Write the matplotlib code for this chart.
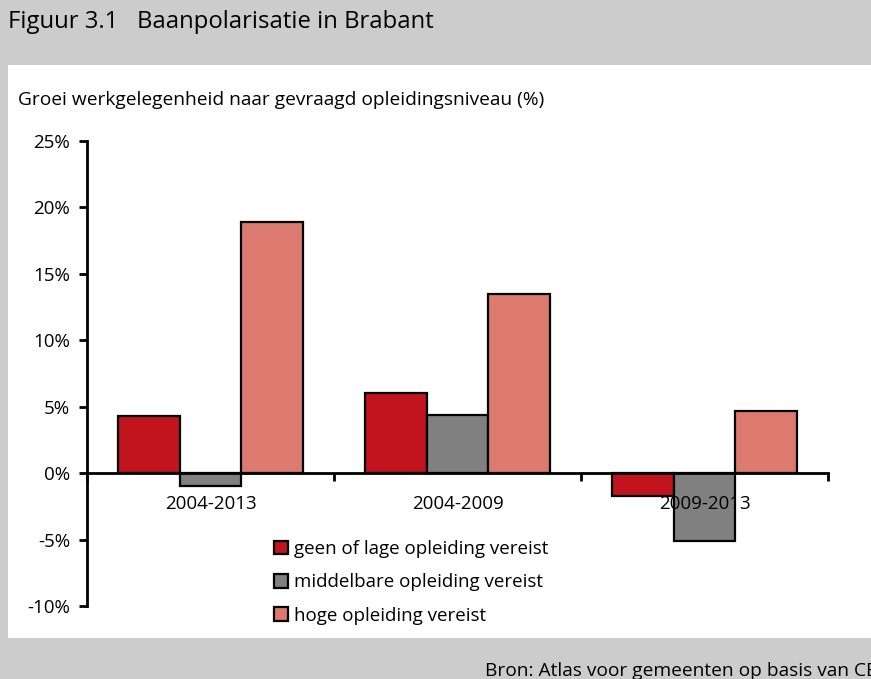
import matplotlib
matplotlib.use("Agg")
import matplotlib.pyplot as plt
import numpy as np
from matplotlib.patches import Rectangle

plt.rcParams['font.family'] = ['Open Sans', 'DejaVu Sans']

categories = ["2004-2013", "2004-2009", "2009-2013"]
series_names = ["geen of lage opleiding vereist",
                "middelbare opleiding vereist",
                "hoge opleiding vereist"]
laag = [4.3, 6.05, -1.75]
middel = [-1.0, 4.4, -5.1]
hoog = [18.9, 13.5, 4.7]
yticks = [-10, -5, 0, 5, 10, 15, 20, 25]
colors = ["#C1141F", "#808080", "#DC7A70"]

W, H = 871, 679
fig = plt.figure(figsize=(W / 100, H / 100), dpi=100)
fig.patch.set_facecolor("#CCCCCC")

# white panel
fig.patches.append(Rectangle((8 / W, 1 - 638 / H), 1, (638 - 65) / H,
                             transform=fig.transFigure, facecolor="white",
                             edgecolor="none", zorder=-5))

fig.text(8 / W, 1 - 22 / H, "Figuur 3.1   Baanpolarisatie in Brabant",
         fontsize=17.2, va="center", ha="left")
fig.text(18 / W, 1 - 100 / H,
         "Groei werkgelegenheid naar gevraagd opleidingsniveau (%)",
         fontsize=13.8, va="center", ha="left")
fig.text(485 / W, 1 - 671 / H, "Bron: Atlas voor gemeenten op basis van CBS",
         fontsize=13.8, va="center", ha="left")

ax = fig.add_axes([87 / W, 1 - 606 / H, (828 - 87) / W, (606 - 141) / H])
ax.set_facecolor("none")
ax.set_zorder(2)
ax.set_axisbelow(False)

x = np.arange(len(categories)) + 0.5
w = 0.25
for i, (vals, name) in enumerate(zip([laag, middel, hoog], series_names)):
    ax.bar(x + (i - 1) * w, vals, width=w, color=colors[i], edgecolor="black",
           linewidth=1.6, label=name, zorder=1)

ax.set_xlim(0, len(categories))
ax.set_ylim(-10, 25)
ax.set_yticks(yticks)
ax.set_yticklabels([f"{v}%" for v in yticks], fontsize=13.5)

ax.spines['top'].set_visible(False)
ax.spines['right'].set_visible(False)
ax.spines['left'].set_linewidth(2)
ax.spines['bottom'].set_linewidth(2)
ax.spines['bottom'].set_position(('data', 0))
ax.spines['bottom'].set_zorder(3)

ax.set_xticks(np.arange(len(categories) + 1))
ax.set_xticklabels([])
ax.set_xticks(x, minor=True)
ax.set_xticklabels(categories, minor=True, fontsize=13.5)
ax.tick_params(axis='x', which='major', direction='out', length=6, width=2)
ax.tick_params(axis='x', which='minor', length=0, pad=16)
ax.tick_params(axis='y', direction='out', length=6, width=2, pad=6)

leg = ax.legend(loc="upper left", bbox_to_anchor=((274 - 87) / (828 - 87), (606 - 540) / (606 - 141)),
                frameon=False, fontsize=13.5, handlelength=0.75, handleheight=0.75,
                handletextpad=0.3, labelspacing=0.82, borderaxespad=0, borderpad=0)
leg.set_zorder(5)

fig.savefig("out.png", dpi=100, facecolor=fig.get_facecolor())
